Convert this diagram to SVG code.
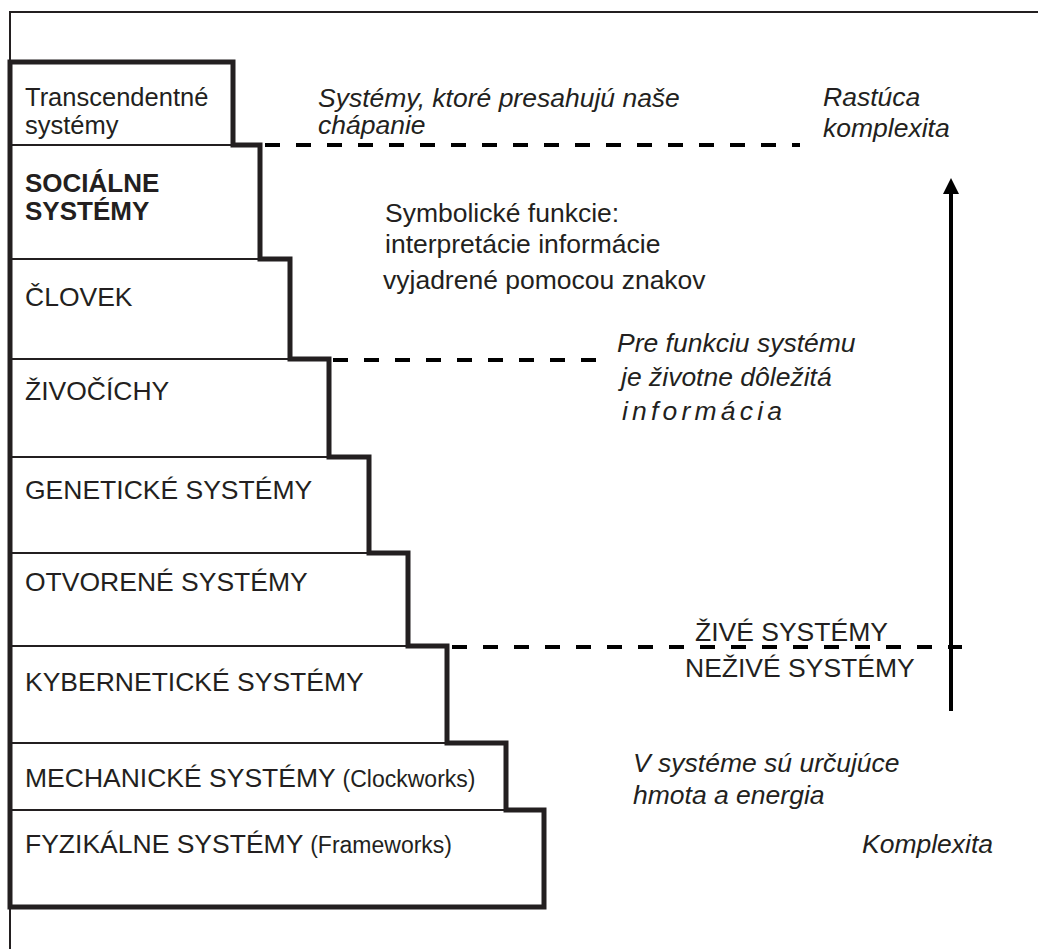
<svg xmlns="http://www.w3.org/2000/svg" width="1038" height="949" viewBox="0 0 1038 949">
  <style>
    .box { fill: #ffffff; stroke: #231f20; stroke-width: 2; }
    .stair { fill: none; stroke: #231f20; stroke-width: 5; stroke-linejoin: miter; }
    .frame { fill: none; stroke: #231f20; stroke-width: 2; }
    .dash { fill: none; stroke: #000000; stroke-width: 4; stroke-dasharray: 15 16; }
    .lbl { font-family: "Liberation Sans", Arial, sans-serif; font-size: 26.5px; fill: #231f20; }
    .top { font-size: 25.5px; }
    .bold { font-weight: bold; font-size: 26px; }
    .small { font-size: 23px; }
    .note { font-family: "Liberation Sans", Arial, sans-serif; font-size: 26.5px; fill: #231f20; font-style: italic; }
  </style>

  <!-- outer frame -->
  <path class="frame" d="M10,949 V12 H1038"/>

  <!-- levels of the hierarchy, top to bottom -->
  <g id="level-transcendent">
    <rect class="box" x="10" y="62" width="223" height="83"/>
    <text class="lbl top" x="25" y="106">Transcendentné</text>
    <text class="lbl top" x="25" y="134">systémy</text>
  </g>
  <g id="level-social">
    <rect class="box" x="10" y="145" width="250" height="114"/>
    <text class="lbl bold" x="25" y="192">SOCIÁLNE</text>
    <text class="lbl bold" x="25" y="220">SYSTÉMY</text>
  </g>
  <g id="level-human">
    <rect class="box" x="10" y="259" width="280" height="100"/>
    <text class="lbl" x="25" y="306">ČLOVEK</text>
  </g>
  <g id="level-animals">
    <rect class="box" x="10" y="359" width="319" height="98"/>
    <text class="lbl" x="25" y="400">ŽIVOČÍCHY</text>
  </g>
  <g id="level-genetic">
    <rect class="box" x="10" y="457" width="359" height="96"/>
    <text class="lbl" x="25" y="499">GENETICKÉ SYSTÉMY</text>
  </g>
  <g id="level-open">
    <rect class="box" x="10" y="553" width="398" height="93"/>
    <text class="lbl" x="25" y="591">OTVORENÉ SYSTÉMY</text>
  </g>
  <g id="level-cybernetic">
    <rect class="box" x="10" y="646" width="437" height="97"/>
    <text class="lbl" x="25" y="691">KYBERNETICKÉ SYSTÉMY</text>
  </g>
  <g id="level-mechanical">
    <rect class="box" x="10" y="743" width="496" height="67"/>
    <text class="lbl" x="25" y="787">MECHANICKÉ SYSTÉMY <tspan class="small">(Clockworks)</tspan></text>
  </g>
  <g id="level-physical">
    <rect class="box" x="10" y="810" width="534" height="97"/>
    <text class="lbl" x="25" y="853">FYZIKÁLNE SYSTÉMY <tspan class="small">(Frameworks)</tspan></text>
  </g>

  <!-- heavy outline of the staircase -->
  <path id="staircase" class="stair" d="M10,62 H233 V145 H260 V259 H290 V359 H329 V457 H369 V553 H408 V646 H447 V743 H506 V810 H544 V907 H10 Z"/>

  <!-- dividing lines and the complexity arrow -->
  <g id="connectors">
    <line class="dash" x1="265" y1="145" x2="800" y2="145"/>
    <line class="dash" x1="333" y1="360" x2="607" y2="360"/>
    <line class="dash" x1="452" y1="647" x2="962" y2="647"/>
    <line x1="951" y1="711" x2="951" y2="192" stroke="#000000" stroke-width="4"/>
    <polygon points="951,178 943,194 959,194" fill="#000000"/>
  </g>

  <!-- annotations -->
  <g id="annotations">
    <text class="note" x="318" y="107">Systémy, ktoré presahujú naše</text>
    <text class="note" x="318" y="134">chápanie</text>
    <text class="note" x="823" y="106">Rastúca</text>
    <text class="note" x="823" y="137">komplexita</text>
    <text class="lbl" x="385" y="222">Symbolické funkcie:</text>
    <text class="lbl" x="385" y="253">interpretácie informácie</text>
    <text class="lbl" x="383" y="289">vyjadrené pomocou znakov</text>
    <text class="note" x="617" y="352">Pre funkciu systému</text>
    <text class="note" x="621" y="386">je životne dôležitá</text>
    <text class="note" x="622" y="420" letter-spacing="4.2">informácia</text>
    <text class="lbl" x="695" y="641">ŽIVÉ SYSTÉMY</text>
    <text class="lbl" x="685" y="677">NEŽIVÉ SYSTÉMY</text>
    <text class="note" x="633" y="772">V systéme sú určujúce</text>
    <text class="note" x="633" y="804">hmota a energia</text>
    <text class="note" x="862" y="853">Komplexita</text>
  </g>
</svg>
